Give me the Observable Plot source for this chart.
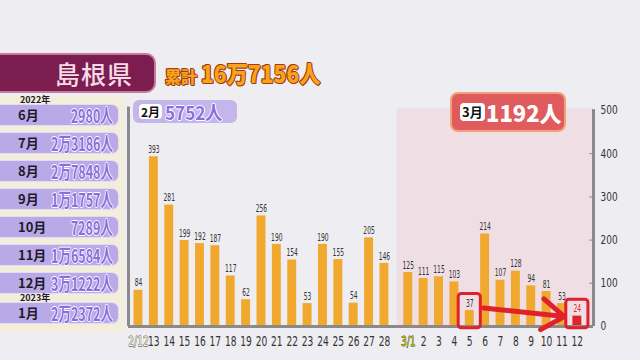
<!DOCTYPE html>
<html><head><meta charset="utf-8">
<script src="https://cdn.jsdelivr.net/npm/d3@7"></script>
<script src="https://cdn.jsdelivr.net/npm/@observablehq/plot@0.6"></script>
<style>
html,body{margin:0;padding:0;}
body{width:640px;height:360px;position:relative;overflow:hidden;background:#eeedf1;font-family:"Noto Sans CJK JP",sans-serif;}
#chart{position:absolute;left:0;top:0;}
.hdr{position:absolute;left:0;top:55px;width:154px;height:36px;background:#7b1d4e;border-radius:0 8px 8px 0;box-shadow:0 0 0 2px #c47a9a;}
.hdr span{position:absolute;left:55px;top:0px;font-size:25px;font-weight:500;color:#f6dbe7;letter-spacing:1px;line-height:36px;}
.total{position:absolute;left:165px;top:55px;line-height:36px;color:#f7a41c;font-weight:900;white-space:nowrap;text-shadow:1px 0 #a23b14,-1px 0 #a23b14,0 1px #a23b14,0 -1px #a23b14,1px 1px #a23b14,-1px -1px #a23b14;}
.total .s{font-size:16px;}
.total .b{display:inline-block;font-size:24px;margin-left:4px;transform:scaleX(0.88);transform-origin:left center;}
.panel{position:absolute;left:0;top:96px;width:124px;height:236px;background:#f2eedb;}
.row{position:absolute;left:0;width:118px;height:20px;background:#b9a9e6;border-radius:0 6px 6px 0;box-shadow:0 0 0 1px #e2dbf5;}
.row .m{position:absolute;left:18px;top:0;line-height:20px;font-size:13px;font-weight:700;color:#1e1a2a;}
.row .v{position:absolute;right:5px;top:0;line-height:20px;font-size:19px;font-weight:700;color:#8a6de0;white-space:nowrap;display:inline-block;transform:scaleX(0.66);transform-origin:right center;text-shadow:1px 0 #fff,-1px 0 #fff,0 1px #fff,0 -1px #fff;}
.yr{position:absolute;left:20px;font-size:9px;line-height:9px;font-weight:700;color:#1e1a2a;}
.feb{position:absolute;left:133px;top:100px;width:104px;height:23px;background:#c4b6ea;border-radius:6px;}
.tag{position:absolute;background:#fff;color:#111;font-weight:700;border-radius:4px;font-size:12px;padding:0 2px;}
.feb .v{position:absolute;left:32px;top:0;line-height:23px;font-size:19px;font-weight:700;color:#8a6de0;white-space:nowrap;display:inline-block;transform:scaleX(0.9);transform-origin:left center;text-shadow:1px 0 #fff,-1px 0 #fff,0 1px #fff,0 -1px #fff;}
.mar{position:absolute;left:452px;top:94px;width:112px;height:36px;background:#e05b5e;border-radius:6px;box-shadow:0 0 0 2px #f0a27a;}
.mar .v{position:absolute;left:34px;top:0;line-height:36px;font-size:22px;font-weight:900;color:#fff;}
</style></head>
<body>
<div id="chart"></div>
<div class="hdr"><span>島根県</span></div>
<div class="total"><span class="s">累計</span><span class="b">16万7156人</span></div>
<div class="panel"></div>
<div id="rows"></div>
<div class="feb"><span class="tag" style="left:6px;top:4px;line-height:15px;">2月</span><span class="v">5752人</span></div>
<div class="mar"><span class="tag" style="left:8px;top:9px;line-height:18px;font-size:13px;">3月</span><span class="v">1192人</span></div>
<script>
// monthly totals (left panel)
const monthLabels = ["6月","7月","8月","9月","10月","11月","12月","1月"];
const monthTotals = ["2980人","2万3186人","2万7848人","1万1757人","7289人","1万6584人","3万1222人","2万2372人"];
const yearLabels = {0:"2022年", 7:"2023年"};

// daily counts
const febDays = [12,13,14,15,16,17,18,19,20,21,22,23,24,25,26,27,28];
const febValues = [84,393,281,199,192,187,117,62,256,190,154,53,190,155,54,205,146];
const marDays = [1,2,3,4,5,6,7,8,9,10,11,12];
const marValues = [125,111,115,103,37,214,107,128,94,81,53,24];
const yTicks = [0,100,200,300,400,500];

// left panel
const rowsEl = document.getElementById("rows");
monthLabels.forEach((m,i)=>{
  const cy = 115 + i*28 + (i===7 ? 2 : 0);
  const r = document.createElement("div");
  r.className="row"; r.style.top=(cy-10)+"px";
  r.innerHTML=`<span class="m">${m}</span><span class="v">${monthTotals[i]}</span>`;
  rowsEl.appendChild(r);
  if (yearLabels[i]) {
    const y = document.createElement("div");
    y.className="yr"; y.style.top=(cy-20)+"px"; y.textContent=yearLabels[i];
    rowsEl.appendChild(y);
  }
});

// build table
const gap = 0.55;
const data = [];
febDays.forEach((d,i)=>data.push({label: i===0 ? `2/${d}` : `${d}`, value: febValues[i], idx: i, month: 2, day: d}));
marDays.forEach((d,i)=>data.push({label: i===0 ? `3/${d}` : `${d}`, value: marValues[i], idx: febDays.length + gap + i, month: 3, day: d}));
const hw = 0.29;
const xMin = -0.65, xMax = data[data.length-1].idx + 1.05;
const marStart = data.find(d=>d.month===3).idx - 0.72;
const d5 = data.find(d=>d.month===3 && d.day===5);
const d12 = data.find(d=>d.month===3 && d.day===12);

const chart = Plot.plot({
  width: 640, height: 360,
  marginLeft: 128, marginRight: 47, marginTop: 110, marginBottom: 34,
  style: {background: "transparent", fontFamily: "'DejaVu Sans',sans-serif"},
  x: {type: "linear", domain: [xMin, xMax], axis: null},
  y: {domain: [0, 500], axis: null},
  marks: [
    Plot.rect([0], {x1: marStart, x2: xMax, y1: 0, y2: 505, fill: "#efdfe4"}),
    Plot.rectY(data, {x1: d=>d.idx-hw, x2: d=>d.idx+hw, y1: 0, y2: "value",
      fill: d=> (d.month===3 && d.day===12) ? "#e0232b" : "#f0a82e"}),
    Plot.text(data, {x: "idx", y: "value", text: d=>String(d.value), dy: -7, fontSize: 10, className: "sq60",
      fill: d=> (d.month===3 && d.day===12) ? "#e0232b" : "#333"}),
    Plot.text(data, {x: "idx", y: 0, text: "label", dy: 15, fontSize: 14, className: "sq65",
      fill: d=> d.label==="3/1" ? "#b8c000" : d.label==="2/12" ? "#f3f0d8" : "#333",
      stroke: d=> (d.label==="3/1"||d.label==="2/12") ? "#333" : "none", strokeWidth: 0.8}),
    Plot.ruleX([xMin], {y1: 0, y2: 508, stroke: "#8a8a8a", strokeWidth: 3}),
    Plot.ruleX([xMax], {y1: 0, y2: 502, stroke: "#8a8a8a", strokeWidth: 3}),
    Plot.ruleY([0], {x1: xMin, x2: xMax, stroke: "#8a8a8a", strokeWidth: 3}),
    Plot.ruleY(yTicks.slice(1,5), {x1: xMax-0.25, x2: xMax, stroke: "#8a8a8a", strokeWidth: 1}),
    Plot.text(yTicks, {x: xMax, y: d=>d, text: d=>String(d), dx: 7, textAnchor: "start", fontSize: 12, fill: "#333", className: "sq75"}),
    // annotations
    Plot.rect([d5, d12], {x1: d=>d.idx-0.72, x2: d=>d.idx+0.72, y1: -4, y2: d=> d.value + 38,
      stroke: "#e0202a", strokeWidth: 3, fill: "none", rx: 3}),
    Plot.arrow([0], {x1: d5.idx+0.9, y1: 43, x2: d12.idx-0.85, y2: 23,
      stroke: "#e0202a", strokeWidth: 5, headLength: 12, headAngle: 70}),
  ]
});
// horizontally condense text glyphs (the reference uses a narrow typeface)
[["sq60",0.6],["sq65",0.65],["sq75",0.75]].forEach(([c,k])=>{
  d3.select(chart).selectAll(`.${c} text`).each(function(){
    const t = d3.select(this).attr("transform") || "";
    d3.select(this).attr("transform", `${t} scale(${k},1)`);
  });
});
document.getElementById("chart").appendChild(chart);
</script>
</body></html>
